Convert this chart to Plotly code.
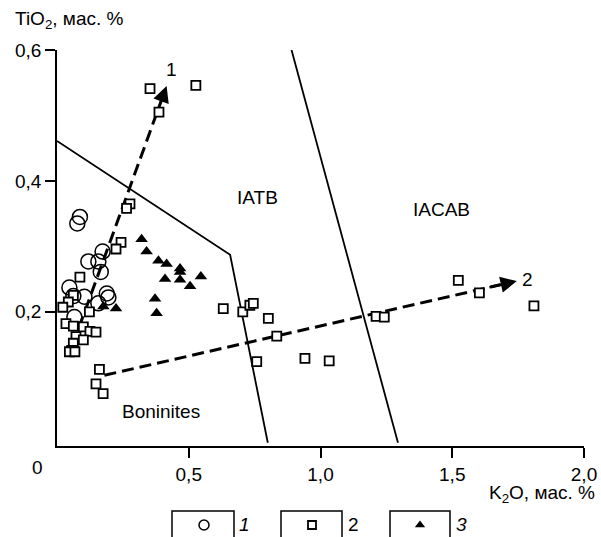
import plotly.graph_objects as go

# ---- data (K2O, TiO2 in wt.%) ----
circ_x = [0.087, 0.077, 0.173, 0.119, 0.157, 0.166, 0.047, 0.062, 0.104, 0.189, 0.195, 0.157, 0.066]
circ_y = [0.345, 0.335, 0.292, 0.277, 0.277, 0.261, 0.237, 0.224, 0.223, 0.228, 0.222, 0.213, 0.192]

sq_x = [0.353, 0.527, 0.387, 0.277, 0.264, 0.243, 0.224,
        0.087, 0.062, 0.043, 0.022, 0.123, 0.034, 0.062, 0.100, 0.125, 0.148, 0.072, 0.100,
        0.062, 0.056, 0.047, 0.068, 0.161, 0.148, 0.175,
        0.631, 0.705, 0.732, 0.745, 0.802, 0.834, 0.758, 0.941, 1.033, 1.211, 1.242, 1.523, 1.603, 1.810]
sq_y = [0.541, 0.546, 0.505, 0.365, 0.358, 0.306, 0.296,
        0.253, 0.225, 0.215, 0.207, 0.200, 0.182, 0.178, 0.177, 0.170, 0.169, 0.162, 0.157,
        0.152, 0.141, 0.139, 0.139, 0.112, 0.090, 0.075,
        0.205, 0.200, 0.210, 0.213, 0.190, 0.163, 0.124, 0.129, 0.125, 0.193, 0.192, 0.248, 0.229, 0.209]

tri_x = [0.321, 0.340, 0.385, 0.416, 0.467, 0.467, 0.410, 0.467, 0.505, 0.546, 0.372, 0.378, 0.176, 0.224]
tri_y = [0.311, 0.292, 0.278, 0.273, 0.261, 0.266, 0.250, 0.249, 0.239, 0.254, 0.220, 0.198, 0.208, 0.205]

# field boundaries
b1_x = [0.0, 0.657, 0.80]
b1_y = [0.461, 0.287, 0.0]
b2_x = [0.89, 1.294]
b2_y = [0.6, 0.0]

# trend arrows
a1_x = [0.06, 0.416]
a1_y = [0.15, 0.545]
a2_x = [0.18, 1.745]
a2_y = [0.103, 0.247]

x_ticks = [0.5, 1.0, 1.5, 2.0]
x_ticktext = ["0,5", "1,0", "1,5", "2,0"]
y_ticks = [0.2, 0.4, 0.6]
y_ticktext = ["0,2", "0,4", "0,6"]

FONT = "Liberation Sans, Arial, sans-serif"
W, H = 601, 537
fs = 19

fig = go.Figure()

for bx, by in [(b1_x, b1_y), (b2_x, b2_y)]:
    fig.add_trace(go.Scatter(x=bx, y=by, mode="lines",
                             line=dict(color="black", width=1.8), showlegend=False,
                             hoverinfo="skip"))

ann = []
for ax_, ay_ in [(a1_x, a1_y), (a2_x, a2_y)]:
    # dashed shaft, stopping just short of the tip
    f = 0.96
    sx = [ax_[0], ax_[0] + f * (ax_[1] - ax_[0])]
    sy = [ay_[0], ay_[0] + f * (ay_[1] - ay_[0])]
    fig.add_trace(go.Scatter(x=sx, y=sy, mode="lines",
                             line=dict(color="black", width=3, dash="12px,6px"),
                             showlegend=False, hoverinfo="skip"))
    g = 0.93
    ann.append(dict(x=ax_[1], y=ay_[1], xref="x", yref="y",
                    ax=ax_[0] + g * (ax_[1] - ax_[0]), ay=ay_[0] + g * (ay_[1] - ay_[0]),
                    axref="x", ayref="y", text="", showarrow=True,
                    arrowhead=2, arrowsize=1.3, arrowwidth=2.5, arrowcolor="black",
                    standoff=0, startstandoff=0))

fig.add_trace(go.Scatter(x=circ_x, y=circ_y, mode="markers", name="1",
                         marker=dict(symbol="circle-open", size=15, color="black",
                                     line=dict(width=1.5, color="black")),
                         showlegend=False, cliponaxis=False))
fig.add_trace(go.Scatter(x=sq_x, y=sq_y, mode="markers", name="2",
                         marker=dict(symbol="square", size=9, color="white",
                                     line=dict(width=1.8, color="black")),
                         showlegend=False, cliponaxis=False))
fig.add_trace(go.Scatter(x=tri_x, y=tri_y, mode="markers", name="3",
                         marker=dict(symbol="triangle-up", size=11, color="black",
                                     line=dict(width=0)),
                         showlegend=False, cliponaxis=False))

# legend symbols on pixel-overlay axes
leg_x = [204, 312, 420]
leg_y = [525, 525, 525]
leg_sym = ["circle-open", "square", "triangle-up"]
for i in range(3):
    fig.add_trace(go.Scatter(x=[leg_x[i]], y=[leg_y[i]], xaxis="x2", yaxis="y2", mode="markers",
                             marker=dict(symbol=leg_sym[i], size=[10, 8, 9][i],
                                         color=["black", "white", "black"][i],
                                         line=dict(width=[1.5, 1.8, 0][i], color="black")),
                             showlegend=False, hoverinfo="skip"))

shapes = []
for x0, x1 in [(172, 234), (281, 342), (390, 450)]:
    shapes.append(dict(type="rect", xref="x2", yref="y2", x0=x0, x1=x1, y0=511, y1=560,
                       line=dict(color="black", width=1.5)))

def txt(x, y, s, xref="x", yref="y", size=fs, xanchor="center", italic=False):
    ann.append(dict(x=x, y=y, xref=xref, yref=yref, text=(f"<i>{s}</i>" if italic else s),
                    showarrow=False, xanchor=xanchor, yanchor="middle",
                    font=dict(family=FONT, size=size, color="black")))

txt(0.435, 0.57, "1")
txt(1.785, 0.249, "2")
txt(0.76, 0.374, "IATB")
txt(1.46, 0.357, "IACAB")
txt(0.395, 0.047, "Boninites")
txt(13, 20, "TiO<sub>2</sub>, мас. %", xref="x2", yref="y2", xanchor="left")
txt(597, 494, "K<sub>2</sub>O, мас. %", xref="x2", yref="y2", xanchor="right")
txt(37, 467, "0", xref="x2", yref="y2")
txt(244, 524, "1", xref="x2", yref="y2", italic=True)
txt(353, 524, "2", xref="x2", yref="y2")
txt(461, 524, "3", xref="x2", yref="y2", italic=True)

fig.update_layout(
    width=W, height=H,
    margin=dict(l=0, r=0, t=0, b=0, pad=0),
    plot_bgcolor="rgba(0,0,0,0)", paper_bgcolor="white",
    separators=", ",
    font=dict(family=FONT, size=fs, color="black"),
    xaxis=dict(domain=[57 / W, 584 / W], range=[0, 2], showgrid=False, zeroline=False,
               showline=True, linecolor="black", linewidth=1.5, automargin=False,
               tickmode="array", tickvals=x_ticks, ticktext=x_ticktext,
               ticks="outside", ticklen=10, tickwidth=1.5, tickcolor="black",
               tickfont=dict(family=FONT, size=fs), anchor="y"),
    yaxis=dict(domain=[(H - 446) / H, (H - 50) / H], range=[-0.005, 0.6], showgrid=False,
               zeroline=False, showline=True, linecolor="black", linewidth=1.5, automargin=False,
               tickmode="array", tickvals=y_ticks, ticktext=y_ticktext,
               ticks="outside", ticklen=10, tickwidth=1.5, tickcolor="black",
               tickfont=dict(family=FONT, size=fs), anchor="x"),
    xaxis2=dict(domain=[0, 1], range=[0, W], visible=False, anchor="y2", fixedrange=True,
                automargin=False),
    yaxis2=dict(domain=[0, 1], range=[H, 0], visible=False, anchor="x2", fixedrange=True,
                automargin=False),
    shapes=shapes,
    annotations=ann,
)

fig.write_html("out.html")
